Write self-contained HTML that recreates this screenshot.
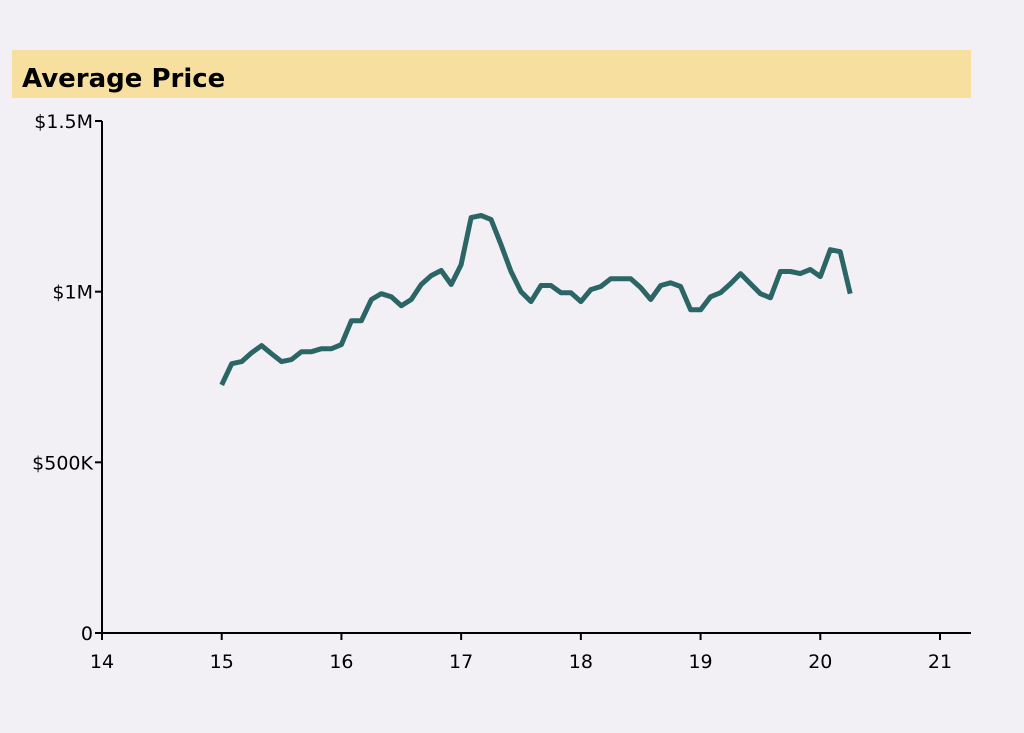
<!DOCTYPE html>
<html><head><meta charset="utf-8"><style>
html,body{margin:0;padding:0;background:#f3f0f5;}
svg{display:block;font-family:"DejaVu Sans","Liberation Sans",sans-serif;}
</style></head><body>
<svg id="chart" width="1024" height="733" viewBox="0 0 1024 733">
<rect x="0" y="0" width="1024" height="733" fill="#f3f0f5"/>
<rect x="12" y="50" width="959" height="48" fill="#f7df9f"/>
<text x="22" y="87" font-size="26" font-weight="bold" fill="#000">Average Price</text>
<g id="axes"></g>
<path id="line" fill="none" stroke="#2b6566" stroke-width="5" stroke-linejoin="round"/>
</svg>
<script>
const startYear = 15;
const values = [727,789,795,821,842,818,795,801,824,824,833,833,845,915,915,977,994,985,959,977,1021,1047,1062,1021,1079,1217,1223,1211,1138,1059,1000,971,1018,1018,997,997,971,1006,1015,1038,1038,1038,1012,977,1018,1026,1015,947,947,985,997,1023,1053,1023,994,982,1059,1059,1053,1065,1044,1123,1117,994];
const xTicks = [14,15,16,17,18,19,20,21];
const yTicks = [0,500,1000,1500];
const yTickLabels = ["0","$500K","$1M","$1.5M"];

const x = v => 102 + (v - 14) * (838 / 7);
const y = v => 633 - v * (512 / 1500);
const ns = "http://www.w3.org/2000/svg";
const axes = document.getElementById("axes");
function mk(tag, attrs, parent){const e=document.createElementNS(ns,tag);for(const k in attrs)e.setAttribute(k,attrs[k]);parent.appendChild(e);return e;}

const yAxis = mk("line",{x1:102,y1:121,x2:102,y2:634,stroke:"#000","stroke-width":2},axes);


const xAxis = mk("line",{x1:101,y1:633,x2:971,y2:633,stroke:"#000","stroke-width":2},axes);



yTicks.forEach((t,i)=>{
  const tk = mk("line",{x1:95,y1:y(t),x2:102,y2:y(t),stroke:"#000","stroke-width":2},axes);
  
  
  const lb = mk("text",{x:93,y:y(t)+7,"text-anchor":"end","font-size":19,fill:"#000"},axes);
  
  
  lb.textContent = yTickLabels[i];
});
xTicks.forEach(t=>{
  const tk = mk("line",{x1:x(t),y1:633,x2:x(t),y2:640,stroke:"#000","stroke-width":2},axes);
  
  
  const lb = mk("text",{x:x(t),y:668,"text-anchor":"middle","font-size":19,fill:"#000"},axes);
  
  
  lb.textContent = t;
});
const d = values.map((v,i)=>(i?"L":"M")+x(startYear+i/12).toFixed(1)+","+y(v).toFixed(1)).join(" ");
document.getElementById("line").setAttribute("d", d);
</script>
</body></html>
